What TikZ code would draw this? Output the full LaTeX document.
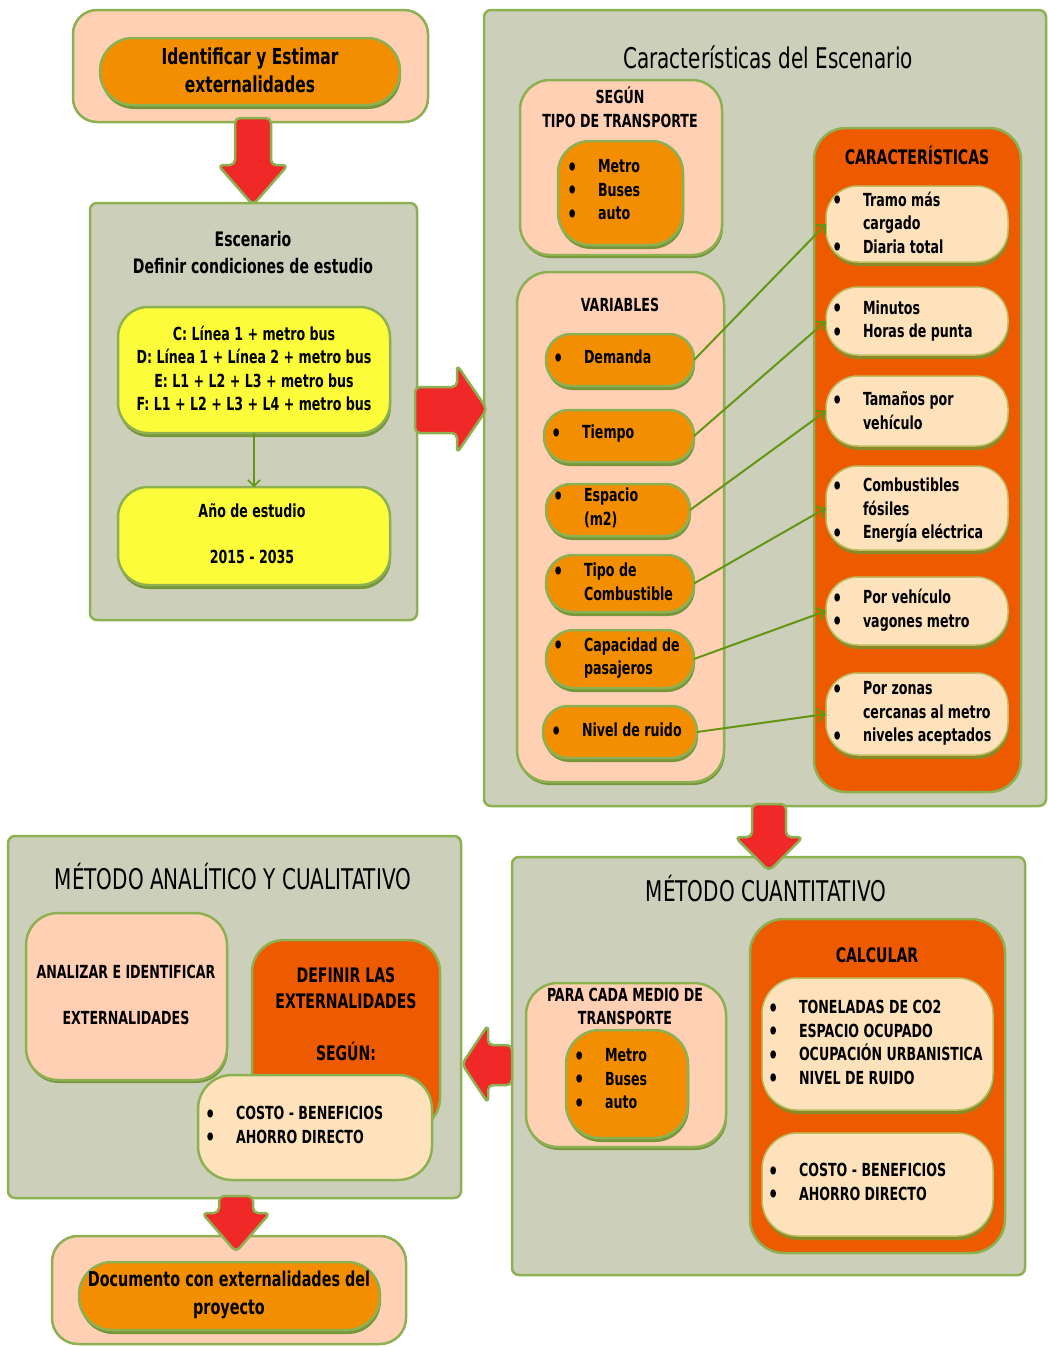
\documentclass[tikz,border=0pt]{standalone}
\usepackage{fontspec}
\setmainfont{DejaVu Sans Condensed}[FakeStretch=0.78]
\usetikzlibrary{shadows,arrows.meta}
\definecolor{panelc}{RGB}{204,208,186}
\definecolor{bordc}{RGB}{141,177,82}
\definecolor{peachc}{RGB}{255,208,180}
\definecolor{orangec}{RGB}{242,142,0}
\definecolor{dorangec}{RGB}{238,90,0}
\definecolor{creamc}{RGB}{253,226,188}
\definecolor{yellowc}{RGB}{252,252,58}
\definecolor{redc}{RGB}{240,40,40}
\definecolor{shgreen}{RGB}{118,150,58}
\definecolor{sholive}{RGB}{140,138,40}
\definecolor{creambord}{RGB}{190,190,100}
\definecolor{connc}{RGB}{100,150,20}
\newcommand\itm[1]{\makebox[31pt][l]{\raisebox{-2.5pt}{\fontsize{23}{23}\selectfont\textbullet}}#1}
\newcommand\itmn[1]{\hspace*{31pt}#1}
\newcommand\RArrDown[6]{\draw[redarr] ({#1-#5},#2) -- ({#1+#5},#2) -- ({#1+#5},#3) -- ({#1+#6},#3) -- (#1,#4) -- ({#1-#6},#3) -- ({#1-#5},#3) -- cycle;}
\begin{document}
\begin{tikzpicture}[x=1pt,y=-1pt,
  box/.style={rectangle, draw=bordc, line width=2.5pt, inner sep=0pt, outer sep=0pt},
  panel/.style={box, fill=panelc, rounded corners=7pt},
  peachbox/.style={box, fill=peachc},
  orangebox/.style={box, fill=orangec, drop shadow={shadow xshift=1pt, shadow yshift=-4pt, fill=shgreen, opacity=1}},
  dorangebox/.style={box, fill=dorangec},
  yellowbox/.style={box, fill=yellowc, drop shadow={shadow xshift=1pt, shadow yshift=-4pt, fill=shgreen, opacity=1}},
  creambox/.style={box, draw=creambord, line width=1.5pt, fill=creamc, drop shadow={shadow xshift=1pt, shadow yshift=-4pt, fill=sholive, opacity=1}},
  peachsh/.style={drop shadow={shadow xshift=1pt, shadow yshift=-3pt, fill=shgreen, opacity=1}},
  redarr/.style={fill=redc, draw=bordc, line width=2.5pt, rounded corners=5pt, line join=round},
  conn/.style={draw=connc, line width=2pt, -{Straight Barb[length=7pt,width=13pt]}},
  txt/.style={inner sep=0pt, outer sep=0pt, text=black, font=\fontsize{18}{23.5}\selectfont\bfseries},
  ttl/.style={inner sep=0pt, outer sep=0pt, text=black, font=\fontsize{28.5}{32}\selectfont},
  hdr/.style={txt, font=\fontsize{20}{26}\selectfont\bfseries, align=center},
  lst/.style={txt, anchor=west, align=left}
]
\useasboundingbox[fill=white] (0,0) rectangle (1048,1347);

% ---- top box
\node[peachbox, rounded corners=24pt, minimum width=355pt, minimum height=112pt] (top) at (250.5,66) {};
\node[orangebox, rounded corners=33pt, minimum width=300pt, minimum height=67pt] (topin) at (250,71.5) {};
\node[txt, font=\fontsize{22}{28}\selectfont\bfseries, align=center] (toptxt) at (250,70) {Identificar y Estimar\\externalidades};

% ---- Escenario
\node[panel, minimum width=327pt, minimum height=417pt] (esc) at (253.5,411.5) {};
\node[hdr, font=\fontsize{20}{27}\selectfont\bfseries] (esctxt) at (253,252.5) {Escenario\\Definir condiciones de estudio};
\node[yellowbox, rounded corners=30pt, minimum width=272pt, minimum height=126pt] (y1) at (254,370) {};
\node[txt, align=center] (y1txt) at (254,368.5) {C: Línea 1 + metro bus\\D: Línea 1 + Línea 2 + metro bus\\E: L1 + L2 + L3 + metro bus\\F: L1 + L2 + L3 + L4 + metro bus};
\node[yellowbox, rounded corners=30pt, minimum width=272pt, minimum height=98pt] (y2) at (254,536) {};
\node[txt, align=center] (y2txt) at (252,534) {Año de estudio\\[22.5pt]2015 - 2035};
\draw[draw=connc, line width=1.5pt, -{Straight Barb[length=6pt,width=12pt]}] (y1.south) -- (y2.north);

% ---- Caracteristicas del escenario
\node[panel, minimum width=562pt, minimum height=796pt] (car) at (765,408) {};
\node[ttl] (cartxt) at (768,57) {Características del Escenario};

\node[peachbox, peachsh, rounded corners=30pt, minimum width=202pt, minimum height=175pt] (seg) at (621,167.5) {};
\node[txt, align=center] (segtxt) at (620,107.5) {SEGÚN\\TIPO DE TRANSPORTE};
\node[orangebox, rounded corners=32pt, minimum width=125pt, minimum height=104pt] (segin) at (620.5,193) {};
\node[lst] (segl) at (567,191) {\itm{Metro}\\\itm{Buses}\\\itm{auto}};

\node[peachbox, peachsh, rounded corners=32pt, minimum width=207pt, minimum height=510pt] (var) at (620.5,527) {};
\node[txt] (vartxt) at (620,305) {VARIABLES};
\node[orangebox, rounded corners=25pt, minimum width=148pt, minimum height=52pt] (dem) at (620,360) {};
\node[lst] (demt) at (553,358) {\itm{Demanda}};
\node[orangebox, rounded corners=25pt, minimum width=150pt, minimum height=52pt] (tie) at (619,436) {};
\node[lst] (tiet) at (551,434) {\itm{Tiempo}};
\node[orangebox, rounded corners=25pt, minimum width=144pt, minimum height=52pt] (esp) at (618,510) {};
\node[lst] (espt) at (553,508) {\itm{Espacio}\\\itmn{(m2)}};
\node[orangebox, rounded corners=27pt, minimum width=148pt, minimum height=57pt] (tip) at (620,583.5) {};
\node[lst] (tipt) at (553,582) {\itm{Tipo de}\\\itmn{Combustible}};
\node[orangebox, rounded corners=28pt, minimum width=148pt, minimum height=58pt] (cap) at (620,659) {};
\node[lst] (capt) at (553,658) {\itm{Capacidad de}\\\itmn{pasajeros}};
\node[orangebox, rounded corners=25pt, minimum width=154pt, minimum height=52pt] (niv) at (620,732) {};
\node[lst] (nivt) at (551,731) {\itm{Nivel de ruido}};

\node[dorangebox, rounded corners=32pt, minimum width=207pt, minimum height=664pt] (cara) at (917.5,460) {};
\node[hdr] (caratxt) at (917,155) {CARACTERÍSTICAS};
\node[creambox, rounded corners=32pt, minimum width=182pt, minimum height=76pt] (c1) at (917,224) {};
\node[lst] (c1t) at (832,224) {\itm{Tramo más}\\\itmn{cargado}\\\itm{Diaria total}};
\node[creambox, rounded corners=32pt, minimum width=182pt, minimum height=68pt] (c2) at (917,321) {};
\node[lst] (c2t) at (832,321) {\itm{Minutos}\\\itm{Horas de punta}};
\node[creambox, rounded corners=32pt, minimum width=182pt, minimum height=70pt] (c3) at (917,411) {};
\node[lst] (c3t) at (832,410.5) {\itm{Tamaños por}\\\itmn{vehículo}};
\node[creambox, rounded corners=32pt, minimum width=182pt, minimum height=84pt] (c4) at (917,508) {};
\node[lst] (c4t) at (832,510.5) {\itm{Combustibles}\\\itmn{fósiles}\\\itm{Energía eléctrica}};
\node[creambox, rounded corners=32pt, minimum width=182pt, minimum height=68pt] (c5) at (917,611) {};
\node[lst] (c5t) at (832,610) {\itm{Por vehículo}\\\itm{vagones metro}};
\node[creambox, rounded corners=32pt, minimum width=182pt, minimum height=82pt] (c6) at (917,714) {};
\node[lst] (c6t) at (832,713.5) {\itm{Por zonas}\\\itmn{cercanas al metro}\\\itm{niveles aceptados}};

\draw[conn] (dem.east) -- (c1.west);
\draw[conn] (tie.east) -- (c2.west);
\draw[conn] (esp.east) -- (c3.west);
\draw[conn] (tip.east) -- (c4.west);
\draw[conn] (cap.east) -- (c5.west);
\draw[conn] (niv.east) -- (c6.west);

% ---- Metodo cuantitativo
\node[panel, minimum width=513pt, minimum height=418pt] (cua) at (768.5,1066) {};
\node[ttl] (cuatxt) at (766,888) {MÉTODO CUANTITATIVO};
\node[peachbox, peachsh, rounded corners=32pt, minimum width=200pt, minimum height=164pt] (par) at (626,1065) {};
\node[txt, align=center] (partxt) at (625,1006.5) {PARA CADA MEDIO DE\\TRANSPORTE};
\node[orangebox, rounded corners=34pt, minimum width=122pt, minimum height=108pt] (parin) at (627,1084) {};
\node[lst] (parl) at (574,1080) {\itm{Metro}\\\itm{Buses}\\\itm{auto}};
\node[dorangebox, rounded corners=34pt, minimum width=255pt, minimum height=334pt] (calc) at (877.5,1086) {};
\node[hdr] (calctxt) at (877,955) {CALCULAR};
\node[creambox, rounded corners=36pt, minimum width=231pt, minimum height=132pt] (ca) at (877.5,1044) {};
\node[lst] (cat) at (768,1043.5) {\itm{TONELADAS DE CO2}\\\itm{ESPACIO OCUPADO}\\\itm{OCUPACIÓN URBANISTICA}\\\itm{NIVEL DE RUIDO}};
\node[creambox, rounded corners=36pt, minimum width=231pt, minimum height=103pt] (cb) at (877.5,1184.5) {};
\node[lst] (cbt) at (768,1183) {\itm{COSTO - BENEFICIOS}\\\itm{AHORRO DIRECTO}};

% ---- Metodo analitico
\node[panel, minimum width=453pt, minimum height=362pt] (ana) at (234.5,1017) {};
\node[ttl] (anatxt) at (233,876) {MÉTODO ANALÍTICO Y CUALITATIVO};
\node[peachbox, peachsh, rounded corners=32pt, minimum width=201pt, minimum height=167pt] (anl) at (126.5,996.5) {};
\node[txt, align=center] (anltxt) at (126,995) {ANALIZAR E IDENTIFICAR\\[22.5pt]EXTERNALIDADES};
\node[dorangebox, rounded corners=32pt, minimum width=188pt, minimum height=190pt] (def) at (346,1035) {};
\node[hdr] (deftxt) at (346,1014.5) {DEFINIR LAS\\EXTERNALIDADES\\[26pt]SEGÚN:};
\node[box, fill=creamc, rounded corners=34pt, minimum width=234pt, minimum height=105pt] (cos) at (315,1127.5) {};
\node[lst] (cost) at (205,1126) {\itm{COSTO - BENEFICIOS}\\\itm{AHORRO DIRECTO}};

% ---- Documento
\node[peachbox, rounded corners=26pt, minimum width=354pt, minimum height=108pt] (doc) at (229,1290) {};
\node[orangebox, rounded corners=33pt, minimum width=301pt, minimum height=68pt] (docin) at (229.5,1296) {};
\node[txt, font=\fontsize{20.5}{28}\selectfont\bfseries, align=center] (doctxt) at (229,1295) {Documento con externalidades del\\proyecto};

% ---- big red arrows
\RArrDown{253}{118}{165}{205}{18}{35}
\draw[redarr] (415,387) -- (457,387) -- (457,365) -- (487,409) -- (457,453) -- (457,433) -- (415,433) -- cycle;
\RArrDown{769}{804}{837}{871}{17}{34}
\draw[redarr] (512,1045) -- (488,1045) -- (488,1025) -- (462,1064) -- (488,1103) -- (488,1085) -- (512,1085) -- cycle;
\RArrDown{236}{1196}{1213}{1252}{17}{34}
\end{tikzpicture}
\end{document}
